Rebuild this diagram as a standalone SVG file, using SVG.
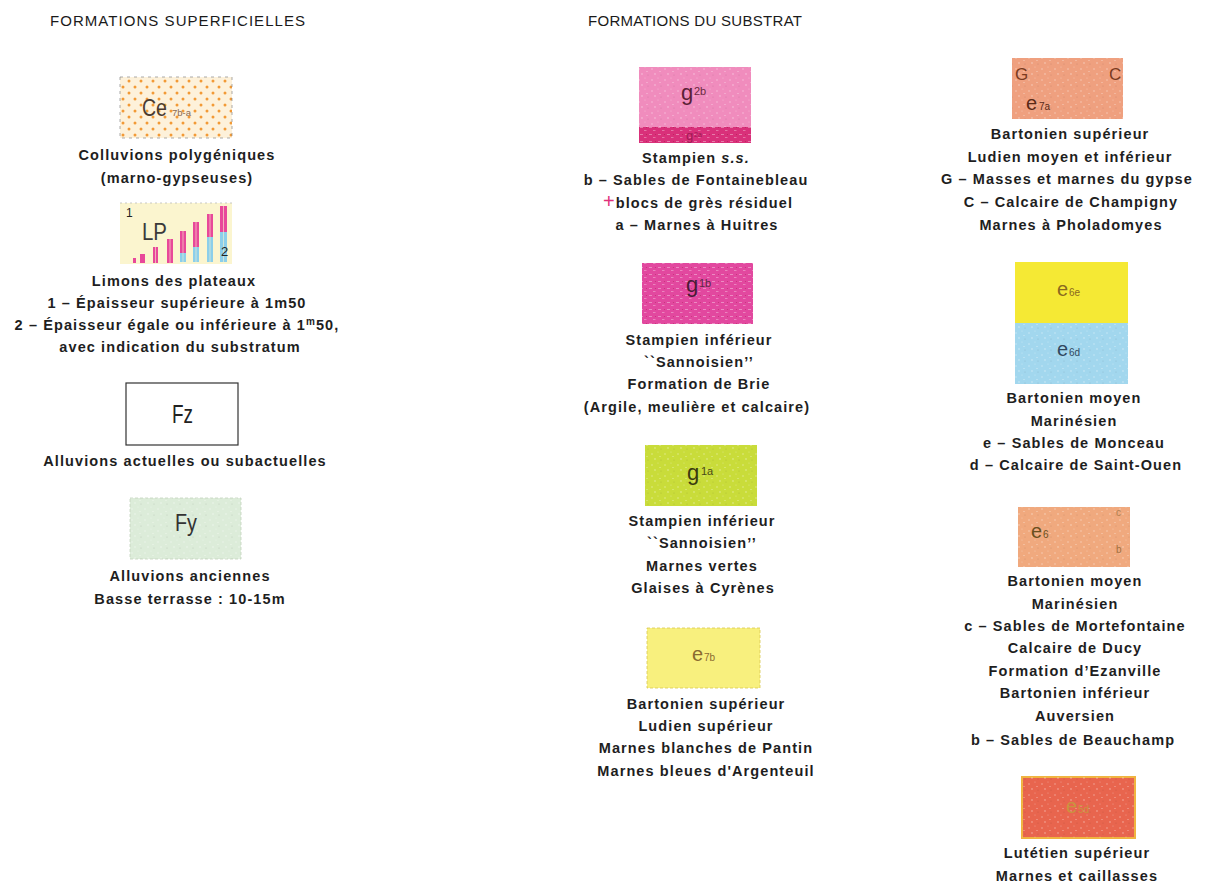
<svg xmlns="http://www.w3.org/2000/svg" width="1221" height="887" viewBox="0 0 1221 887">
<style>
.t{font-family:"Liberation Sans",Arial,sans-serif;font-size:14.5px;font-weight:bold;letter-spacing:1.1px;fill:#1e1e1e;text-anchor:middle}
.ttl{font-family:"Liberation Sans",Arial,sans-serif;font-size:15px;fill:#1a1a1a}
.lab{font-family:"Liberation Sans Narrow","Liberation Sans",Arial,sans-serif;font-weight:normal}
.idx{font-family:"Liberation Sans",Arial,sans-serif;font-weight:normal}
</style>
<defs>
<pattern id="dots" width="12" height="12" patternUnits="userSpaceOnUse">
<circle cx="3" cy="3" r="1.5" fill="#f29a36"/>
<circle cx="9" cy="9" r="1.5" fill="#f29a36"/>
</pattern>
<pattern id="speck" width="13" height="11" patternUnits="userSpaceOnUse">
<circle cx="2" cy="3" r="0.8" fill="#fff" opacity=".4"/>
<circle cx="8" cy="1" r="0.6" fill="#fff" opacity=".35"/>
<circle cx="5" cy="8" r="0.9" fill="#fff" opacity=".3"/>
<circle cx="11" cy="9" r="0.6" fill="#000" opacity=".12"/>
<rect x="9" y="5" width="2" height="0.7" fill="#fff" opacity=".35"/>
</pattern>
<pattern id="speck2" width="9" height="7" patternUnits="userSpaceOnUse">
<rect x="1" y="1" width="3" height="0.8" fill="#fff" opacity=".45"/>
<rect x="5" y="4" width="2.5" height="0.8" fill="#fff" opacity=".4"/>
<circle cx="7.5" cy="1.5" r="0.6" fill="#600" opacity=".25"/>
</pattern>
</defs>
<rect width="1221" height="887" fill="#ffffff"/>

<text class="ttl" x="50" y="26" textLength="255" lengthAdjust="spacing">FORMATIONS SUPERFICIELLES</text>
<text class="ttl" x="588" y="26" textLength="214" lengthAdjust="spacing">FORMATIONS DU SUBSTRAT</text>

<g id="connectors"/>

<g id="ce">
<rect x="120" y="77" width="112" height="61" fill="#fdf1da"/>
<rect x="120" y="77" width="112" height="61" fill="url(#dots)"/>
<rect x="120" y="77" width="112" height="61" fill="none" stroke="#888" stroke-width="0.7" stroke-dasharray="3 4"/>
<text class="lab" x="142" y="116" font-size="23" textLength="25" lengthAdjust="spacingAndGlyphs" fill="#4a3a30">Ce</text>
<text class="idx" x="172" y="116" font-size="9.5" fill="#8a6a50">7b-a</text>
<text class="t" x="177" y="160">Colluvions polygéniques</text>
<text class="t" x="177" y="183">(marno-gypseuses)</text>
</g>

<g id="lp">
<rect x="120" y="203" width="112" height="61" fill="#fbf5cf"/>
<line x1="120" y1="203" x2="232" y2="203" stroke="#bbb" stroke-width="0.8" stroke-dasharray="2 3"/>
<g fill="#e8489a">
<rect x="133" y="258" width="3" height="5"/>
<rect x="140" y="254" width="5" height="9"/>
<rect x="153" y="247" width="5" height="16"/>
<rect x="167" y="239" width="6" height="24"/>
<rect x="180" y="231" width="6" height="22"/>
<rect x="193" y="222" width="6" height="25"/>
<rect x="207" y="214" width="6" height="23"/>
<rect x="220" y="206" width="7" height="26"/>
</g>
<g fill="#8ccfea">
<rect x="180" y="253" width="6" height="9"/>
<rect x="193" y="247" width="6" height="15"/>
<rect x="207" y="237" width="6" height="25"/>
<rect x="220" y="232" width="7" height="30"/>
</g>
<g fill="#fbf5cf" opacity=".6">
<rect x="155" y="247" width="1" height="16"/>
<rect x="169.5" y="239" width="1" height="24"/>
<rect x="182.5" y="231" width="1" height="31"/>
<rect x="195.5" y="222" width="1" height="40"/>
<rect x="209.5" y="214" width="1" height="48"/>
<rect x="223" y="206" width="1" height="56"/>
</g>
<text class="idx" x="126" y="217" font-size="12" fill="#222">1</text>
<text class="lab" x="142" y="240" font-size="23" textLength="25" lengthAdjust="spacingAndGlyphs" fill="#3a3a3a">LP</text>
<text class="idx" x="221" y="256" font-size="13" fill="#222">2</text>
<text class="t" x="174" y="286">Limons des plateaux</text>
<text class="t" x="177" y="308">1 – Épaisseur supérieure à 1m50</text>
<text class="t" x="177" y="330">2 – Épaisseur égale ou inférieure à 1<tspan dy="-5" font-size="10">m</tspan><tspan dy="5">50,</tspan></text>
<text class="t" x="180" y="352">avec indication du substratum</text>
</g>

<g id="fz">
<rect x="126" y="383" width="112" height="62" fill="#fff" stroke="#333" stroke-width="1.2"/>
<text class="lab" x="172" y="423" font-size="26" textLength="21" lengthAdjust="spacingAndGlyphs" fill="#222">Fz</text>
<text class="t" x="185" y="466">Alluvions actuelles ou subactuelles</text>
</g>

<g id="fy">
<rect x="130" y="498" width="111" height="61" fill="#dcecd9" stroke="#c3d3bd" stroke-width="0.8" stroke-dasharray="3 2"/>
<rect x="130" y="498" width="111" height="61" fill="url(#speck)"/>
<text class="lab" x="175" y="531" font-size="24" textLength="22" lengthAdjust="spacingAndGlyphs" fill="#333">Fy</text>
<text class="t" x="190" y="581">Alluvions anciennes</text>
<text class="t" x="190" y="604">Basse terrasse : 10-15m</text>
</g>

<g id="g2b">
<rect x="639" y="67" width="112" height="60" fill="#f08cbd"/>
<rect x="639" y="67" width="112" height="60" fill="url(#speck)"/>
<rect x="639" y="127" width="112" height="16" fill="#d9307a"/>
<rect x="639" y="127" width="112" height="16" fill="url(#speck2)"/>
<text class="lab" x="681" y="100" font-size="22" fill="#5a2035">g</text>
<text class="idx" x="694" y="95" font-size="11" fill="#6a2a40">2b</text>
<text class="lab" x="686" y="140" font-size="13" fill="#a01a55">g</text>
<text class="idx" x="694" y="137" font-size="7" fill="#a01a55">2a</text>
<text class="t" x="696" y="163">Stampien <tspan font-style="italic">s.s.</tspan></text>
<text class="t" x="696" y="185">b – Sables de Fontainebleau</text>
<text class="t" x="698" y="208"><tspan fill="#e0307a" font-weight="normal" font-size="20">+</tspan>blocs de grès résiduel</text>
<text class="t" x="697" y="230">a – Marnes à Huitres</text>
</g>

<g id="g1b">
<rect x="642" y="263" width="111" height="61" fill="#e2489f"/>
<rect x="642" y="263" width="111" height="61" fill="url(#speck2)"/>
<text class="lab" x="686" y="292" font-size="22" fill="#4a1a35">g</text>
<text class="idx" x="699" y="287" font-size="11" fill="#5a2a45">1b</text>
<text class="t" x="699" y="345">Stampien inférieur</text>
<text class="t" x="699" y="367">``Sannoisien’’</text>
<text class="t" x="699" y="389">Formation de Brie</text>
<text class="t" x="697" y="412">(Argile, meulière et calcaire)</text>
</g>

<g id="g1a">
<rect x="645" y="445" width="112" height="61" fill="#c9dc3a"/>
<rect x="645" y="445" width="112" height="61" fill="url(#speck)"/>
<text class="lab" x="687" y="480" font-size="22" fill="#3a3a10">g</text>
<text class="idx" x="701" y="475" font-size="11" fill="#4a4a18">1a</text>
<text class="t" x="702" y="526">Stampien inférieur</text>
<text class="t" x="702" y="548">``Sannoisien’’</text>
<text class="t" x="702" y="571">Marnes vertes</text>
<text class="t" x="703" y="593">Glaises à Cyrènes</text>
</g>

<g id="e7b">
<rect x="647" y="628" width="113" height="60" fill="#f8f07e" stroke="#d8c850" stroke-width="0.8" stroke-dasharray="3 2"/>
<text class="lab" x="692" y="661" font-size="20" fill="#8a6a30">e</text>
<text class="idx" x="704" y="661" font-size="10" fill="#8a6a30">7b</text>
<text class="t" x="706" y="709">Bartonien supérieur</text>
<text class="t" x="706" y="731">Ludien supérieur</text>
<text class="t" x="706" y="753">Marnes blanches de Pantin</text>
<text class="t" x="706" y="776">Marnes bleues d'Argenteuil</text>
</g>

<g id="e7a">
<rect x="1012" y="58" width="111" height="61" fill="#efa07f"/>
<rect x="1012" y="58" width="111" height="61" fill="url(#speck)"/>
<text class="lab" x="1015" y="80" font-size="17" fill="#7a3a20">G</text>
<text class="lab" x="1109" y="80" font-size="17" fill="#7a3a20">C</text>
<text class="lab" x="1026" y="110" font-size="20" fill="#5a2a18">e</text>
<text class="idx" x="1039" y="110" font-size="10" fill="#5a2a18">7a</text>
<text class="t" x="1070" y="139">Bartonien supérieur</text>
<text class="t" x="1070" y="162">Ludien moyen et inférieur</text>
<text class="t" x="1067" y="184">G – Masses et marnes du gypse</text>
<text class="t" x="1071" y="207">C – Calcaire de Champigny</text>
<text class="t" x="1071" y="230">Marnes à Pholadomyes</text>
</g>

<g id="e6ed">
<rect x="1015" y="262" width="113" height="61" fill="#f5e934"/>
<rect x="1015" y="323" width="113" height="61" fill="#a2d7ee"/>
<rect x="1015" y="323" width="113" height="61" fill="url(#speck)"/>
<text class="lab" x="1057" y="296" font-size="20" fill="#8a6a20">e</text>
<text class="idx" x="1069" y="296" font-size="10" fill="#8a6a20">6e</text>
<text class="lab" x="1057" y="356" font-size="20" fill="#304860">e</text>
<text class="idx" x="1069" y="356" font-size="10" fill="#304860">6d</text>
<text class="t" x="1074" y="403">Bartonien moyen</text>
<text class="t" x="1074" y="426">Marinésien</text>
<text class="t" x="1074" y="448">e – Sables de Monceau</text>
<text class="t" x="1076" y="470">d – Calcaire de Saint-Ouen</text>
</g>

<g id="e6cb">
<rect x="1018" y="507" width="112" height="60" fill="#f0a97e"/>
<rect x="1018" y="507" width="112" height="60" fill="url(#speck)"/>
<text class="lab" x="1031" y="538" font-size="20" fill="#6a5020">e</text>
<text class="idx" x="1043" y="538" font-size="10" fill="#6a5020">6</text>
<text class="idx" x="1116" y="516" font-size="10" fill="#b08050">c</text>
<text class="idx" x="1116" y="553" font-size="10" fill="#a07040">b</text>
<text class="t" x="1075" y="586">Bartonien moyen</text>
<text class="t" x="1075" y="609">Marinésien</text>
<text class="t" x="1075" y="631">c – Sables de Mortefontaine</text>
<text class="t" x="1075" y="653">Calcaire de Ducy</text>
<text class="t" x="1075" y="676">Formation d’Ezanville</text>
<text class="t" x="1075" y="698">Bartonien inférieur</text>
<text class="t" x="1075" y="721">Auversien</text>
<text class="t" x="1073" y="745">b – Sables de Beauchamp</text>
</g>

<g id="e5">
<rect x="1022" y="777" width="113" height="61" fill="#e8654e" stroke="#f0b440" stroke-width="2"/>
<rect x="1022" y="777" width="113" height="61" fill="url(#speck)"/>
<text class="lab" x="1066" y="813" font-size="20" fill="#c8943e">e</text>
<text class="idx" x="1078" y="813" font-size="10" fill="#c8943e">5d</text>
<text class="t" x="1077" y="858">Lutétien supérieur</text>
<text class="t" x="1077" y="881">Marnes et caillasses</text>
</g>
</svg>
